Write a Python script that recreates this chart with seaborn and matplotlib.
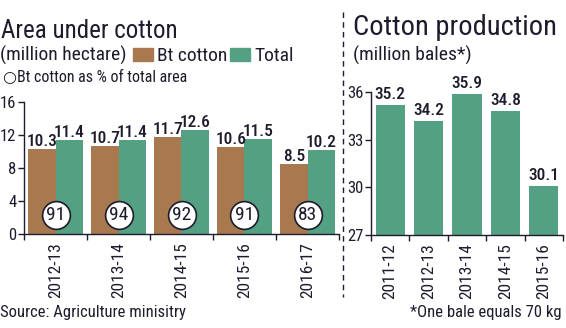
import matplotlib
matplotlib.use("Agg")
import matplotlib.pyplot as plt
import seaborn as sns
import pandas as pd
from matplotlib.lines import Line2D
from matplotlib.patches import Rectangle

# Area under cotton (million hectare)
area_years = ["2012-13", "2013-14", "2014-15", "2015-16", "2016-17"]
bt_cotton = [10.3, 10.7, 11.7, 10.6, 8.5]
total_area = [11.4, 11.4, 12.6, 11.5, 10.2]
bt_share = [91, 94, 92, 91, 83]  # Bt cotton as % of total area

# Cotton production (million bales)
prod_years = ["2011-12", "2012-13", "2013-14", "2014-15", "2015-16"]
production = [35.2, 34.2, 35.9, 34.8, 30.1]

BROWN = "#A8794E"
GREEN = "#54A083"
INK = "#1E1B2C"
FONT = ["Roboto Condensed", "DejaVu Sans"]

sns.set_theme(style="ticks")
plt.rcParams["font.family"] = FONT
plt.rcParams["text.color"] = INK
plt.rcParams["axes.edgecolor"] = INK
plt.rcParams["xtick.color"] = INK
plt.rcParams["ytick.color"] = INK
plt.rcParams["axes.linewidth"] = 1.0

W, H = 566, 328
fig = plt.figure(figsize=(W / 100, H / 100), dpi=100)


def px_axes(left, top, right, bottom):
    return fig.add_axes([left / W, 1 - bottom / H, (right - left) / W, (bottom - top) / H])


def style_axes(ax, labels, yticks, ylim):
    ax.set_xlim(-0.5, len(labels) - 0.5)
    ax.set_ylim(*ylim)
    ax.set_yticks(yticks)
    ax.set_yticklabels([str(t) for t in yticks])
    ax.set_xticks(range(len(labels)))
    ax.set_xticklabels(labels, rotation=90)
    ax.set_xticks([i - 0.5 for i in range(len(labels) + 1)], minor=True)
    ax.tick_params(axis="x", which="major", length=0, pad=6, labelsize=12.5)
    ax.tick_params(axis="x", which="minor", length=4, width=1, direction="out")
    ax.tick_params(axis="y", length=4, width=1, pad=1.5, labelsize=12)
    ax.set_xlabel("")
    ax.set_ylabel("")
    for s in ("top", "right"):
        ax.spines[s].set_visible(False)
    ax.set_facecolor("none")


# ---- left panel: area under cotton ----
ax1 = px_axes(24, 102, 339, 234)
area_df = pd.DataFrame({
    "year": area_years * 2,
    "series": ["Bt cotton"] * len(area_years) + ["Total"] * len(area_years),
    "value": bt_cotton + total_area,
})
sns.barplot(data=area_df, x="year", y="value", hue="series",
            palette=[BROWN, GREEN], saturation=1, width=0.87, gap=0,
            linewidth=0, legend=False, ax=ax1)
for cont in ax1.containers:
    ax1.bar_label(cont, fmt="%.1f", padding=0, fontsize=12.5,
                  fontweight="medium", color=INK)
ax1.scatter(range(len(bt_share)), [2.3] * len(bt_share), s=400,
            facecolor="white", edgecolor=INK, linewidth=1.2, zorder=5)
for i, p in enumerate(bt_share):
    ax1.text(i, 2.3, str(p), ha="center", va="center", fontsize=14,
             color=INK, zorder=6)
style_axes(ax1, area_years, [0, 4, 8, 12, 16], (0, 16))

# ---- right panel: cotton production ----
ax2 = px_axes(371, 92, 563, 235)
prod_df = pd.DataFrame({"year": prod_years, "value": production})
sns.barplot(data=prod_df, x="year", y="value", color=GREEN, saturation=1,
            width=0.76, linewidth=0, ax=ax2)
for cont in ax2.containers:
    ax2.bar_label(cont, fmt="%.1f", padding=2, fontsize=12.5,
                  fontweight="medium", color=INK)
style_axes(ax2, prod_years, [27, 30, 33, 36], (27, 36))

# ---- titles, legend and notes ----
def ftext(x, y, s, **kw):
    fig.text(x / W, 1 - y / H, s, **kw)


ftext(1, 38, "Area under cotton", fontsize=18, va="baseline")
ftext(0, 61, "(million hectare)", fontsize=14, va="baseline")
fig.patches.append(Rectangle((133 / W, 1 - 61 / H), 20 / W, 13 / H,
                             transform=fig.transFigure, color=BROWN))
ftext(157, 61, "Bt cotton", fontsize=14, va="baseline")
fig.patches.append(Rectangle((230 / W, 1 - 61 / H), 20 / W, 13 / H,
                             transform=fig.transFigure, color=GREEN))
ftext(254, 61, "Total", fontsize=14, va="baseline")
ftext(3, 82, "\u25cbBt cotton as % of total area", fontsize=11.5, va="baseline")

ftext(353, 35, "Cotton production", fontsize=20.5, va="baseline")
ftext(353, 61, "(million bales*)", fontsize=14, va="baseline")

ftext(0, 312, "Source: Agriculture minisitry", fontsize=12, va="center")
ftext(562, 312, "*One bale equals 70 kg", fontsize=12, va="center", ha="right")

fig.add_artist(Line2D([343 / W, 343 / W], [1 - 12 / H, 1 - 297 / H],
                      transform=fig.transFigure, color=INK, linewidth=1,
                      linestyle=(0, (4, 3))))

fig.savefig("out.png", dpi=100, facecolor="white")
